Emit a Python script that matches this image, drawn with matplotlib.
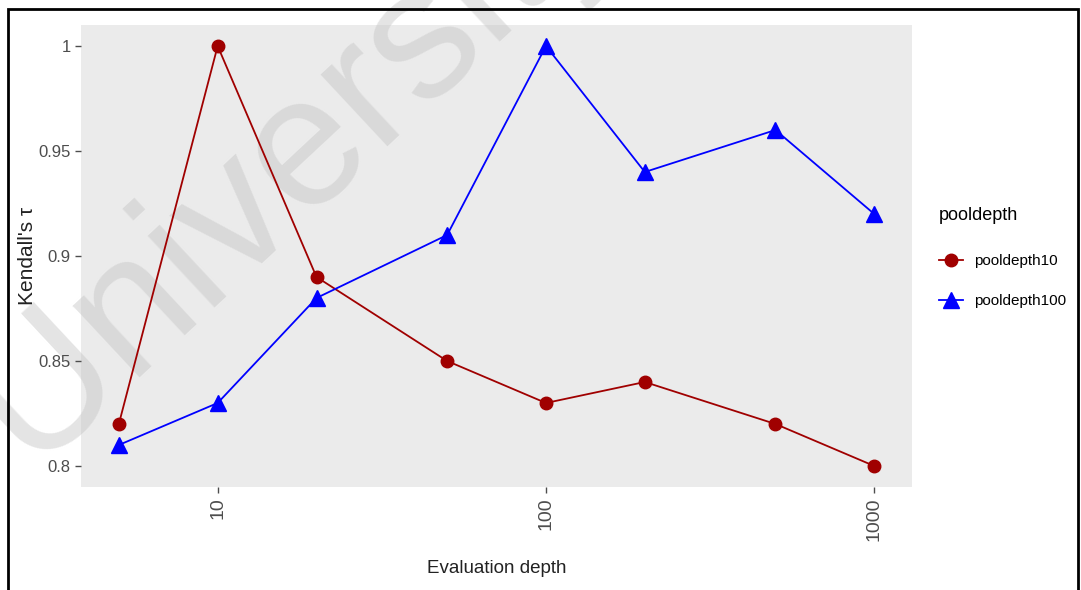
import numpy as np
import matplotlib.pyplot as plt
from matplotlib.patches import Rectangle

plt.rcParams['font.family'] = ['Liberation Sans', 'DejaVu Sans']

# evaluation depths and Kendall's tau per pool depth
depth = [5, 10, 20, 50, 100, 200, 500, 1000]
tau_pool10 = [0.82, 1.00, 0.89, 0.85, 0.83, 0.84, 0.82, 0.80]
tau_pool100 = [0.81, 0.83, 0.88, 0.91, 1.00, 0.94, 0.96, 0.92]
xticks = [10, 100, 1000]
yticks = [0.8, 0.85, 0.9, 0.95, 1.0]

fig = plt.figure(figsize=(10.81, 5.90), dpi=100)
ax = fig.add_axes([0.075, 0.1746, 0.7687, 0.783])
ax.set_facecolor('#ebebeb')

# watermark across the plot, above the panel but under the lines
ax.text(0.028, 0.21, "University", transform=fig.transFigure, fontsize=133,
        color='#c4c4c4', alpha=0.45, rotation=43, rotation_mode='anchor',
        ha='left', va='baseline', zorder=1, clip_on=False)

ax.plot(depth, tau_pool10, color='#a00000', lw=1.3, marker='o', ms=9,
        label='pooldepth10', zorder=3)
ax.plot(depth, tau_pool100, color='#0000ff', lw=1.3, marker='^', ms=11,
        label='pooldepth100', zorder=3)

ax.set_xscale('log')
lo, hi = np.log10(depth[0]), np.log10(depth[-1])
pad = 0.05 * (hi - lo)
ax.set_xlim(10 ** (lo - pad), 10 ** (hi + pad))
ax.set_ylim(0.79, 1.01)
ax.set_xticks(xticks)
ax.set_xticklabels([str(t) for t in xticks], rotation=90, fontsize=14)
ax.minorticks_off()
ax.set_yticks(yticks)
ax.set_yticklabels(['0.8', '0.85', '0.9', '0.95', '1'], fontsize=12)
ax.tick_params(colors='#4d4d4d', length=4, width=1)
for s in ax.spines.values():
    s.set_visible(False)

ax.set_xlabel('Evaluation depth', fontsize=13.5, color='#222222', labelpad=14)
ax.set_ylabel("Kendall's τ", fontsize=15, color='#222222', labelpad=1)

leg = ax.legend(title='pooldepth', loc='upper left', bbox_to_anchor=(1.032, 0.607),
                frameon=False, fontsize=11, title_fontsize=13, borderpad=0,
                borderaxespad=0, handlelength=1.6, labelspacing=1.7,
                handletextpad=0.7)
leg._legend_box.align = 'left'
leg._legend_box.sep = 22

# outer frame
fig.patches.append(Rectangle((0.0075, -0.01), 0.990, 0.995, transform=fig.transFigure,
                             fill=False, edgecolor='black', lw=2))

fig.savefig('out.png', dpi=100)
